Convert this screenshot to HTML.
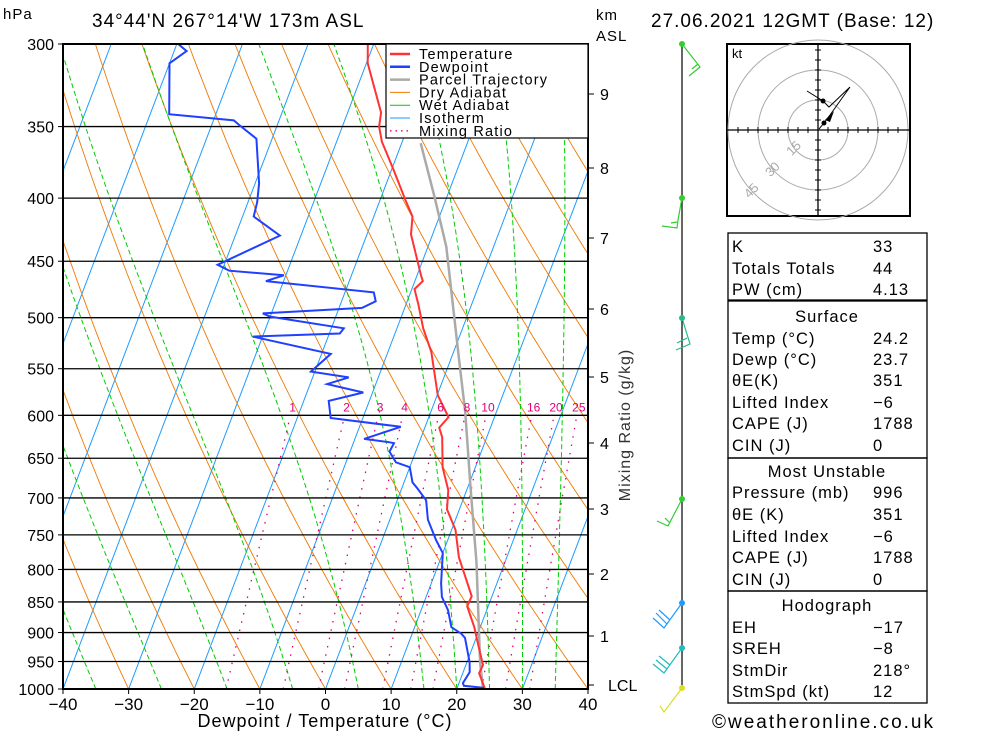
<!DOCTYPE html>
<html><head><meta charset="utf-8">
<style>
html,body{margin:0;padding:0;background:#fff;}
svg{display:block;font-family:"Liberation Sans",sans-serif;}
.t{font-size:17px;letter-spacing:1px;fill:#000;}
</style></head>
<body>
<svg id="chart" width="1000" height="733" viewBox="0 0 1000 733" xmlns="http://www.w3.org/2000/svg">
<defs><clipPath id="plotclip"><rect x="63" y="44" width="525" height="645"/></clipPath></defs>
<g id="bg" clip-path="url(#plotclip)"></g>
<g id="grid"></g>
<g id="series" clip-path="url(#plotclip)"></g>
<rect x="63" y="44" width="525" height="645" fill="none" stroke="#000" stroke-width="2"/>
<g id="axes"></g>
<text x="3" y="19" class="t" style="font-size:15px">hPa</text>
<text x="92" y="27" class="t" style="font-size:19px">34°44'N  267°14'W  173m  ASL</text>
<text x="596" y="20" class="t" style="font-size:15px">km</text>
<text x="596" y="41" class="t" style="font-size:15px">ASL</text>
<text x="651" y="27" class="t" style="font-size:19px">27.06.2021  12GMT  (Base: 12)</text>
<text x="325" y="727" text-anchor="middle" class="t" style="font-size:18px">Dewpoint / Temperature (°C)</text>
<text transform="translate(630,425) rotate(-90)" text-anchor="middle" class="t" style="font-size:16px;fill:#333">Mixing Ratio (g/kg)</text>
<g id="legend">
<rect x="386" y="44" width="202" height="94" fill="#fff" stroke="#000" stroke-width="1.2"/>
</g>
<g id="winds"></g>
<g id="hodo"></g>
<g id="table"></g>
<text x="712" y="728" class="t" style="font-size:19px;letter-spacing:2px">©weatheronline.co.uk</text>
</svg>
<script>
// ---- data ----
var pressureTicks=[300,350,400,450,500,550,600,650,700,750,800,850,900,950,1000];
var tempTicks=[-40,-30,-20,-10,0,10,20,30,40];
var tempP=[1000,971,956,930,891,857,841,782,743,715,690,661,625,614,602,578,533,510,488,474,467,462,428,414,401,380,360,350,341,311,300];
var tempT=[24.3,22.5,22.6,21.2,19.1,16.8,16.9,12.7,10.6,8.1,7.2,5.0,3.2,2.2,3.0,0.1,-3.4,-6.0,-8.1,-9.6,-8.8,-9.4,-13.3,-14.1,-16.2,-19.6,-23.1,-24.4,-24.9,-29.8,-30.9];
var dewP=[998,994,989,969,951,909,902,891,863,842,821,776,757,729,703,687,680,661,655,642,632,631,627,613,603,584,575,566,559,553,535,518,515,510,499,496,491,485,477,467,462,458,453,429,414,403,389,358,349,346,342,311,304,300];
var dewT=[24.1,20.9,20.6,21.0,20.4,18.3,17.5,15.6,14.1,12.4,11.5,10.0,8.2,5.8,4.4,2.3,1.3,0.0,-2.4,-4.0,-3.8,-4.5,-8.6,-3.7,-14.9,-16.2,-11.4,-17.4,-14.5,-20.6,-18.6,-31.5,-18.4,-18.1,-30.0,-31.3,-16.5,-14.8,-15.6,-32.7,-30.3,-38.9,-41.0,-33.2,-38.3,-38.6,-39.4,-42.4,-45.8,-46.9,-57.1,-60.0,-58.1,-59.8];
var parcelP=[1000,951,790,686,597,541,438,399,361];
var parcelT=[24.0,22.0,15.7,10.4,5.3,1.3,-7.2,-11.9,-17.1];
var mixRatios=[1,2,3,4,6,8,10,16,20,25];
var kmLabels=[1,2,3,4,5,6,7,8,9];
var kmY=[636,574,509,443,377,309,238,168,94];
// ---- axes ----
var X0=325.5,PX=6.5625,SK=0.38,YT=44,YB=689;
function yP(p){return YT+Math.log(p/300)/Math.log(1000/300)*(YB-YT);}
function xT(t,p){return X0+PX*t+SK*(YB-yP(p));}
var NS="http://www.w3.org/2000/svg";
function mk(tag,par,at){var e=document.createElementNS(NS,tag);for(var k in at)e.setAttribute(k,at[k]);par.appendChild(e);return e;}
function pts(P,T){var s=[];for(var i=0;i<P.length;i++)s.push(xT(T[i],P[i]).toFixed(1)+","+yP(P[i]).toFixed(1));return s.join(" ");}
var bg=document.getElementById('bg'),grid=document.getElementById('grid'),series=document.getElementById('series'),axes=document.getElementById('axes');
var i,t,p,P,T,s;
// isotherms
for(t=-120;t<=40;t+=10){var l=mk('line',bg,{x1:xT(t,1000),y1:yP(1000),x2:xT(t,300),y2:yP(300),stroke:'#1e9bff','stroke-width':1});

}
// dry adiabats
for(var th=-40;th<=160;th+=10){P=[];T=[];for(p=1000;p>=300;p-=10){P.push(p);T.push((th+273.15)*Math.pow(p/1000,0.2857)-273.15);}
var d=mk('polyline',bg,{points:pts(P,T),fill:'none',stroke:'#f07800','stroke-width':0.9});

}
// wet adiabats
function es(tc){return 6.112*Math.exp(17.67*tc/(tc+243.5));}
var wet=[-45,-35,-25,-15,-5,5,15,20,25,30,35];
for(i=0;i<wet.length;i++){P=[1000];T=[wet[i]];var tk=wet[i]+273.15;
for(p=1000;p>300;p-=5){var tc=tk-273.15,rs=0.622*es(tc)/(p-es(tc));var dT=(287*tk+2.5e6*rs)/(p*(1005+2.5e6*2.5e6*rs*0.622/(287*tk*tk)));tk-=dT*5;P.push(p-5);T.push(tk-273.15);}
var w=mk('polyline',bg,{points:pts(P,T),fill:'none',stroke:'#00cc00','stroke-width':1,'stroke-dasharray':'5,3'});

}
// mixing ratio
for(i=0;i<mixRatios.length;i++){P=[];T=[];for(p=1000;p>=600;p-=10){var wr=mixRatios[i]*1.18;var e=wr*p/(622+wr);var lg=Math.log(e/6.112);P.push(p);T.push(243.5*lg/(17.67-lg));}
var m=mk('polyline',bg,{points:pts(P,T),fill:'none',stroke:'#e0007a','stroke-width':1.3,'stroke-dasharray':'1.5,7'});


var ml=mk('text',axes,{x:xT(T[T.length-1],600)+2,y:yP(600)-4,'text-anchor':'middle','font-size':12,fill:'#e0007a'});ml.textContent=mixRatios[i];

}
// pressure grid + labels
for(i=0;i<pressureTicks.length;i++){var y=yP(pressureTicks[i]);
var g=mk('line',grid,{x1:63,x2:588,y1:y,y2:y,stroke:'#000','stroke-width':1.3});


var tl=mk('text',axes,{x:54,y:y+6,'text-anchor':'end','font-size':16,fill:'#000'});tl.textContent=pressureTicks[i];


mk('line',axes,{x1:58,x2:63,y1:y,y2:y,stroke:'#000'});}
for(i=0;i<tempTicks.length;i++){var x=X0+PX*tempTicks[i];
var xl=mk('text',axes,{x:x,y:710,'text-anchor':'middle','font-size':17,fill:'#000'});xl.textContent=String(tempTicks[i]).replace('-','\u2212');


mk('line',axes,{x1:x,x2:x,y1:689,y2:694,stroke:'#000'});}
// km axis
for(i=0;i<kmLabels.length;i++){mk('line',axes,{x1:588,x2:594,y1:kmY[i],y2:kmY[i],stroke:'#000'});
var kl=mk('text',axes,{x:600,y:kmY[i]+6,'font-size':16,fill:'#000'});kl.textContent=kmLabels[i];

}
mk('line',axes,{x1:588,x2:594,y1:685,y2:685,stroke:'#000'});
var lcl=mk('text',axes,{x:608,y:691,'font-size':16,fill:'#000'});lcl.textContent='LCL';


// series
var pc=mk('polyline',series,{points:pts(parcelP,parcelT),fill:'none',stroke:'#aaaaaa','stroke-width':2.5});


var tline=mk('polyline',series,{points:pts(tempP,tempT),fill:'none',stroke:'#ff3333','stroke-width':2});


var dline=mk('polyline',series,{points:pts(dewP,dewT),fill:'none',stroke:'#2040ff','stroke-width':2});


// legend
var leg=document.getElementById('legend');
var legNames=['Temperature','Dewpoint','Parcel Trajectory','Dry Adiabat','Wet Adiabat','Isotherm','Mixing Ratio'];
var legCols=['#ff3333','#2040ff','#aaaaaa','#f07800','#00cc00','#1e9bff','#e0007a'];
var legW=[2.5,2.5,2.5,1,1,1,1.3];
for(i=0;i<legNames.length;i++){var ly=54+i*12.8;
var ll=mk('line',leg,{x1:390,x2:410,y1:ly,y2:ly,stroke:legCols[i],'stroke-width':legW[i]});
if(i==6)ll.setAttribute('stroke-dasharray','1.5,4');


var lt=mk('text',leg,{x:419,y:ly+5,'font-size':14.5,'letter-spacing':'1.2',fill:'#000'});lt.textContent=legNames[i];

}
// winds
var wd=document.getElementById('winds');
mk('line',wd,{x1:682,y1:44,x2:682,y2:689,stroke:'#000','stroke-width':1.2});
var barbs=[
 [44,'#33cc33','682,44 700,67 689,76','698,64 692,69'],
 [198,'#33cc33','682,198 678,220 677,228 662,226','677,222 671,223'],
 [318,'#22bb88','682,318 690,344 676,350','687,338 677,343'],
 [499,'#33cc33','682,499 668,526 657,521','670,523 665,518'],
 [603,'#1e9bff','682,603 664,628 653,618','667,624 656,613 M670,620 659,610'],
 [648,'#22bbbb','682,648 664,673 653,664','667,669 656,660 M670,665 659,656'],
 [688,'#dddd22','682,688 664,712 660,706','']];
for(i=0;i<barbs.length;i++){var b=barbs[i];
var bp=mk('polyline',wd,{points:b[2],fill:'none',stroke:b[1],'stroke-width':1.2});


if(b[3]){b[3].split(' M').forEach(function(q){mk('polyline',wd,{points:q,fill:'none',stroke:b[1],'stroke-width':1.2});});}
var dt=mk('circle',wd,{cx:682,cy:b[0],r:3,fill:b[1]});

}
// hodograph
var hd=document.getElementById('hodo'),cx=818,cy=130;
var hb=mk('rect',hd,{x:727,y:44,width:183,height:172,fill:'#fff',stroke:'#000','stroke-width':2});


[30,60,90].forEach(function(r){mk('circle',hd,{cx:cx,cy:cy,r:r,fill:'none',stroke:'#aaa','stroke-width':1});});
mk('line',hd,{x1:727,x2:910,y1:cy,y2:cy,stroke:'#000','stroke-width':1.3});
mk('line',hd,{x1:cx,x2:cx,y1:44,y2:216,stroke:'#000','stroke-width':1.3});
for(var k=-8;k<=8;k++){if(!k)continue;mk('line',hd,{x1:cx+k*10,x2:cx+k*10,y1:cy-3,y2:cy+3,stroke:'#000'});mk('line',hd,{x1:cx-3,x2:cx+3,y1:cy+k*10,y2:cy+k*10,stroke:'#000'});}
var kt=mk('text',hd,{x:732,y:58,'font-size':13,fill:'#000'});kt.textContent='kt';
[[15,30],[30,60],[45,90]].forEach(function(a){var ang=Math.PI*0.75,tx=cx+Math.cos(ang)*a[1]*1,ty=cy+Math.sin(ang)*a[1];
var tt=mk('text',hd,{x:tx,y:ty,'font-size':13,fill:'#aaa','text-anchor':'middle',transform:'rotate(-45 '+tx+' '+ty+')'});tt.textContent=a[0];});
mk('polyline',hd,{points:'819,129 824,123 830,115 850,87 829,107 823,101 807,91',fill:'none',stroke:'#000','stroke-width':1});
mk('circle',hd,{cx:824,cy:123,r:2.5,fill:'#000'});
mk('circle',hd,{cx:823,cy:101,r:2.5,fill:'#000'});
mk('polygon',hd,{points:'825,120 834,111 830,122',fill:'#000'});
// table
var tb=document.getElementById('table');
[[233,67],[301,157],[458,133],[591,112]].forEach(function(r){var bx=mk('rect',tb,{x:728,y:r[0],width:199,height:r[1],fill:'none',stroke:'#000','stroke-width':1.3});

});
var rows=[[246,'K','33'],[268,'Totals Totals','44'],[289,'PW (cm)','4.13'],[316,'   Surface',''],[338,'Temp (°C)','24.2'],[359,'Dewp (°C)','23.7'],[380,'θE(K)','351'],[402,'Lifted Index','\u22126'],[423,'CAPE (J)','1788'],[445,'CIN (J)','0'],
[471,'  Most Unstable',''],[492,'Pressure (mb)','996'],[514,'θE (K)','351'],[536,'Lifted Index','\u22126'],[557,'CAPE (J)','1788'],[579,'CIN (J)','0'],[605,'    Hodograph',''],[627,'EH','\u221217'],[648,'SREH','\u22128'],[670,'StmDir','218°'],[691,'StmSpd (kt)','12']];
for(i=0;i<rows.length;i++){var r=rows[i];var cl=!r[2];
var a=mk('text',tb,{x:cl?827:732,y:r[0]+6,'text-anchor':cl?'middle':'start','font-size':16.5,'letter-spacing':'1',fill:'#000'});a.textContent=r[1].trim();


if(r[2]){var v=mk('text',tb,{x:873,y:r[0]+6,'font-size':16.5,'letter-spacing':'1',fill:'#000'});v.textContent=r[2];

}}
</script>
</body></html>
